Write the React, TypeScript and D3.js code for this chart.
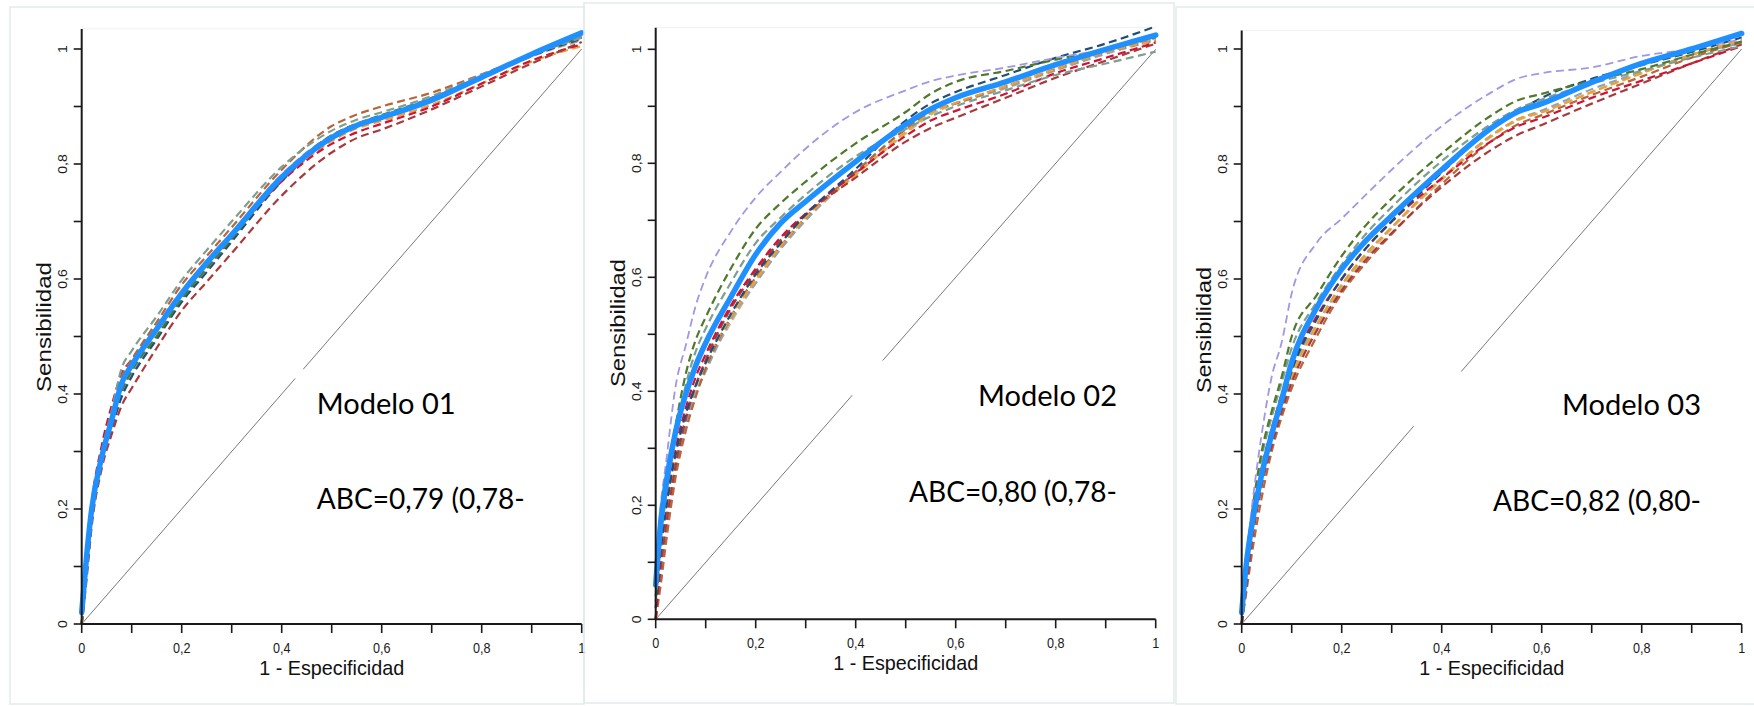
import React from 'react';
import * as d3 from 'd3';

// false positive rate grid shared by every curve
const FPR = [0, 0.01, 0.02, 0.04, 0.06, 0.08, 0.1, 0.15, 0.2, 0.25, 0.3, 0.4, 0.5, 0.55, 0.6, 0.7, 0.8, 0.9, 1];

// Modelo 01
const m1Blue = [0.02, 0.12, 0.2, 0.29, 0.355, 0.419, 0.45, 0.513, 0.575, 0.628, 0.677, 0.777, 0.846, 0.867, 0.881, 0.911, 0.951, 0.991, 1.028];
const m1GreyTeal = [0, 0.1, 0.19, 0.29, 0.37, 0.445, 0.475, 0.535, 0.598, 0.65, 0.7, 0.795, 0.858, 0.877, 0.89, 0.918, 0.955, 0.99, 1.02];
const m1Sienna = [0, 0.1, 0.2, 0.3, 0.37, 0.43, 0.46, 0.525, 0.59, 0.64, 0.69, 0.79, 0.866, 0.886, 0.9, 0.924, 0.956, 0.99, 1.02];
const m1DarkRed = [0, 0.08, 0.17, 0.27, 0.33, 0.38, 0.41, 0.48, 0.545, 0.595, 0.645, 0.745, 0.82, 0.845, 0.86, 0.895, 0.935, 0.975, 1.012];
const m1Red = [0, 0.12, 0.21, 0.31, 0.38, 0.435, 0.46, 0.515, 0.575, 0.625, 0.675, 0.77, 0.835, 0.855, 0.87, 0.9, 0.94, 0.98, 1.008];
const m1Navy = [0, 0.09, 0.18, 0.28, 0.34, 0.395, 0.43, 0.495, 0.56, 0.612, 0.665, 0.77, 0.845, 0.866, 0.88, 0.912, 0.95, 0.988, 1.018];
const m1Olive = [0, 0.1, 0.19, 0.285, 0.35, 0.405, 0.44, 0.5, 0.565, 0.618, 0.67, 0.775, 0.85, 0.87, 0.885, 0.915, 0.952, 0.99, 1.02];
const m1Orange = [0, 0.11, 0.2, 0.29, 0.355, 0.41, 0.445, 0.51, 0.57, 0.622, 0.672, 0.77, 0.84, 0.862, 0.875, 0.903, 0.94, 0.978, 1.005];
const m1Lavender = [0, 0.1, 0.2, 0.295, 0.36, 0.42, 0.455, 0.52, 0.58, 0.632, 0.68, 0.782, 0.85, 0.87, 0.884, 0.913, 0.952, 0.99, 1.022];
const m1Khaki = [0, 0.1, 0.19, 0.285, 0.35, 0.41, 0.44, 0.505, 0.568, 0.62, 0.672, 0.775, 0.845, 0.866, 0.88, 0.91, 0.948, 0.987, 1.015];
const m1BlueGrey = [0, 0.09, 0.18, 0.28, 0.345, 0.4, 0.435, 0.5, 0.565, 0.618, 0.67, 0.772, 0.845, 0.866, 0.88, 0.91, 0.95, 0.988, 1.016];

// Modelo 02
const m2Blue = [0.06, 0.17, 0.235, 0.33, 0.395, 0.445, 0.485, 0.565, 0.64, 0.695, 0.733, 0.803, 0.868, 0.895, 0.915, 0.943, 0.973, 1.0, 1.025];
const m2Lavender = [0.08, 0.2, 0.27, 0.41, 0.48, 0.55, 0.6, 0.68, 0.74, 0.785, 0.826, 0.89, 0.928, 0.944, 0.954, 0.968, 0.985, 1.0, 1.02];
const m2Olive = [0.04, 0.15, 0.22, 0.34, 0.43, 0.49, 0.53, 0.615, 0.685, 0.73, 0.768, 0.835, 0.89, 0.922, 0.943, 0.962, 0.982, 1.0, 1.02];
const m2GreyTeal = [0.03, 0.14, 0.21, 0.32, 0.41, 0.47, 0.51, 0.59, 0.66, 0.705, 0.745, 0.812, 0.86, 0.882, 0.9, 0.928, 0.955, 0.975, 0.996];
const m2Navy = [0.02, 0.12, 0.19, 0.29, 0.36, 0.41, 0.45, 0.535, 0.605, 0.66, 0.71, 0.79, 0.875, 0.905, 0.925, 0.955, 0.985, 1.01, 1.04];
const m2Red = [0, 0.12, 0.19, 0.3, 0.37, 0.425, 0.465, 0.55, 0.615, 0.67, 0.712, 0.783, 0.848, 0.875, 0.892, 0.922, 0.958, 0.985, 1.012];
const m2DarkRed = [0, 0.09, 0.16, 0.27, 0.35, 0.41, 0.455, 0.545, 0.61, 0.665, 0.71, 0.775, 0.838, 0.862, 0.88, 0.915, 0.95, 0.98, 1.01];
const m2Orange = [0, 0.1, 0.17, 0.28, 0.355, 0.41, 0.45, 0.53, 0.595, 0.655, 0.705, 0.78, 0.855, 0.888, 0.906, 0.935, 0.965, 0.995, 1.015];
const m2Khaki = [0, 0.1, 0.17, 0.275, 0.35, 0.4, 0.44, 0.52, 0.59, 0.65, 0.7, 0.78, 0.852, 0.885, 0.905, 0.935, 0.966, 0.996, 1.018];
const m2BlueGrey = [0, 0.08, 0.15, 0.26, 0.34, 0.395, 0.435, 0.525, 0.59, 0.65, 0.7, 0.785, 0.86, 0.89, 0.905, 0.932, 0.963, 0.992, 1.016];
const m2Sienna = [0, 0.06, 0.13, 0.25, 0.33, 0.39, 0.44, 0.53, 0.6, 0.655, 0.705, 0.785, 0.86, 0.89, 0.905, 0.935, 0.965, 0.995, 1.015];

// Modelo 03
const m3Blue = [0.02, 0.11, 0.17, 0.26, 0.33, 0.39, 0.455, 0.55, 0.617, 0.668, 0.71, 0.79, 0.863, 0.89, 0.905, 0.942, 0.975, 1.0, 1.027];
const m3Lavender = [0.03, 0.12, 0.2, 0.33, 0.43, 0.49, 0.575, 0.663, 0.705, 0.748, 0.79, 0.866, 0.925, 0.948, 0.958, 0.968, 0.988, 1.0, 1.017];
const m3Olive = [0.02, 0.12, 0.19, 0.3, 0.37, 0.43, 0.5, 0.572, 0.64, 0.695, 0.74, 0.818, 0.885, 0.91, 0.922, 0.945, 0.965, 0.99, 1.013];
const m3GreyTeal = [0.02, 0.11, 0.18, 0.29, 0.36, 0.42, 0.48, 0.56, 0.625, 0.68, 0.725, 0.805, 0.87, 0.895, 0.912, 0.94, 0.962, 0.985, 1.005];
const m3Navy = [0, 0.09, 0.16, 0.26, 0.33, 0.38, 0.44, 0.53, 0.6, 0.655, 0.7, 0.785, 0.862, 0.89, 0.915, 0.948, 0.972, 0.995, 1.02];
const m3Red = [0, 0.09, 0.16, 0.27, 0.34, 0.4, 0.45, 0.535, 0.6, 0.655, 0.7, 0.775, 0.84, 0.865, 0.88, 0.915, 0.945, 0.975, 1.005];
const m3DarkRed = [0, 0.07, 0.14, 0.24, 0.31, 0.37, 0.42, 0.51, 0.58, 0.635, 0.68, 0.76, 0.825, 0.85, 0.868, 0.905, 0.94, 0.975, 1.008];
const m3Orange = [0, 0.08, 0.15, 0.25, 0.32, 0.38, 0.43, 0.52, 0.59, 0.645, 0.69, 0.775, 0.85, 0.877, 0.89, 0.925, 0.958, 0.99, 1.015];
const m3Khaki = [0, 0.08, 0.15, 0.25, 0.32, 0.38, 0.43, 0.515, 0.585, 0.64, 0.688, 0.772, 0.848, 0.875, 0.89, 0.925, 0.958, 0.99, 1.015];
const m3BlueGrey = [0, 0.09, 0.16, 0.26, 0.33, 0.39, 0.44, 0.52, 0.59, 0.645, 0.69, 0.775, 0.85, 0.877, 0.893, 0.93, 0.96, 0.99, 1.01];
const m3Sienna = [0, 0.06, 0.12, 0.22, 0.3, 0.36, 0.41, 0.5, 0.575, 0.63, 0.678, 0.765, 0.84, 0.868, 0.885, 0.92, 0.952, 0.985, 1.012];

const MODEL_NAMES = ['Modelo 01', 'Modelo 02', 'Modelo 03'];
const ABC_LABELS = ['ABC=0,79 (0,78-', 'ABC=0,80 (0,78-', 'ABC=0,82 (0,80-'];
// where the pasted text box hides the reference diagonal (fpr range)
const DIAG_GAPS = [[0.427, 0.443], [0.393, 0.454], [0.344, 0.439]];

const MINOR_TICKS = [0, 0.1, 0.2, 0.3, 0.4, 0.5, 0.6, 0.7, 0.8, 0.9, 1];
const LABEL_TICKS = [0, 0.2, 0.4, 0.6, 0.8, 1];
const TICK_TEXT = ['0', '0,2', '0,4', '0,6', '0,8', '1'];

const COLORS = {
  blue: '#1E90FF',
  lavender: '#A197E3',
  olive: '#4E7A2A',
  greyTeal: '#7E9E90',
  navy: '#214E78',
  red: '#D01236',
  darkRed: '#A83A3C',
  orange: '#F0A030',
  khaki: '#CBBB84',
  blueGrey: '#8FA3BC',
  sienna: '#B8653C',
};

const SERIES = [
  { blue: m1Blue, dashed: [
    ['khaki', m1Khaki], ['blueGrey', m1BlueGrey], ['orange', m1Orange], ['lavender', m1Lavender], ['navy', m1Navy],
    ['olive', m1Olive], ['red', m1Red], ['darkRed', m1DarkRed], ['sienna', m1Sienna], ['greyTeal', m1GreyTeal]] },
  { blue: m2Blue, dashed: [
    ['khaki', m2Khaki], ['blueGrey', m2BlueGrey], ['sienna', m2Sienna], ['orange', m2Orange], ['darkRed', m2DarkRed],
    ['red', m2Red], ['navy', m2Navy], ['greyTeal', m2GreyTeal], ['olive', m2Olive], ['lavender', m2Lavender]] },
  { blue: m3Blue, dashed: [
    ['khaki', m3Khaki], ['blueGrey', m3BlueGrey], ['sienna', m3Sienna], ['orange', m3Orange], ['darkRed', m3DarkRed],
    ['red', m3Red], ['navy', m3Navy], ['greyTeal', m3GreyTeal], ['olive', m3Olive], ['lavender', m3Lavender]] },
];

// pixel layout of the three pasted images
const LAYOUT = [
  { x0: 81.7, y0: 624, h: 575, yTop: 1.035, frame: [10, 7, 574, 697], titleX: 316.7, titleY: 413.5, abcX: 316.7, abcY: 509, sensY: 327, sensLen: 130 },
  { x0: 655.7, y0: 619.3, h: 570, yTop: 1.038, frame: [584, 3, 590, 700], titleX: 978, titleY: 405.6, abcX: 909, abcY: 501.6, sensY: 323, sensLen: 128 },
  { x0: 1241.7, y0: 624, h: 575, yTop: 1.032, frame: [1176, 7, 590, 697], titleX: 1562, titleY: 415, abcX: 1493, abcY: 511, sensY: 330, sensLen: 126 },
];
const PLOT_W = 500;

const SANS = '"Liberation Sans", Arial, sans-serif';
const CALIBRI = 'Lato, "Open Sans", sans-serif';

const Panel: React.FC<{ i: number }> = ({ i }) => {
  const L = LAYOUT[i];
  const S = SERIES[i];
  const xs = d3.scaleLinear().domain([0, 1]).range([L.x0, L.x0 + PLOT_W]);
  const ys = d3.scaleLinear().domain([0, 1]).range([L.y0, L.y0 - L.h]);
  const line = d3.line<number>()
    .x((_, k) => xs(FPR[k]))
    .y(d => ys(d))
    .curve(d3.curveMonotoneX);
  const [g0, g1] = DIAG_GAPS[i];
  const [fx, fy, fw, fh] = L.frame;

  return (
    <g>
      <rect x={fx} y={fy} width={fw} height={fh} fill="none" stroke="#e3eaec" strokeWidth={1.5} />
      <line x1={xs(0)} x2={xs(1)} y1={ys(L.yTop)} y2={ys(L.yTop)} stroke="#eef2f3" strokeWidth={1} />

      {/* diagonal reference */}
      <line x1={xs(0)} y1={ys(0)} x2={xs(g0)} y2={ys(g0)} stroke="#555" strokeWidth={0.8} />
      <line x1={xs(g1)} y1={ys(g1)} x2={xs(1)} y2={ys(1)} stroke="#555" strokeWidth={0.8} />

      {S.dashed.map(([c, v]) => (
        <path key={c as string} d={line(v as number[]) || ''} fill="none"
          stroke={COLORS[c as keyof typeof COLORS]} strokeWidth={c === 'lavender' ? 1.8 : 2.2}
          strokeDasharray="8,4.5" />
      ))}
      <path d={line(S.blue) || ''} fill="none" stroke={COLORS.blue} strokeWidth={5.5}
        strokeLinejoin="round" strokeLinecap="round" />

      {/* axes */}
      <line x1={xs(0)} x2={xs(1)} y1={ys(0)} y2={ys(0)} stroke="#1a1a1a" strokeWidth={2} />
      <line x1={xs(0)} x2={xs(0)} y1={ys(0)} y2={ys(L.yTop)} stroke="#1a1a1a" strokeWidth={2} />
      {MINOR_TICKS.map(t => (
        <g key={'t' + t}>
          <line x1={xs(t)} x2={xs(t)} y1={ys(0)} y2={ys(0) + 9} stroke="#1a1a1a" strokeWidth={1.6} />
          <line x1={xs(0) - 8} x2={xs(0)} y1={ys(t)} y2={ys(t)} stroke="#1a1a1a" strokeWidth={1.6} />
        </g>
      ))}
      {LABEL_TICKS.map((t, k) => (
        <g key={'l' + t} fontFamily={SANS} fontSize={14} fill="#1a1a1a">
          <text transform={`translate(${xs(t)},${ys(0) + 29}) scale(0.9,1)`} textAnchor="middle">{TICK_TEXT[k]}</text>
          <text transform={`translate(${xs(0) - 15},${ys(t)}) scale(0.9,1) rotate(-90)`} textAnchor="middle">{TICK_TEXT[k]}</text>
        </g>
      ))}
      <text x={xs(0.5)} y={ys(0) + 51} textAnchor="middle" fontFamily={SANS} fontSize={21}
        textLength={145} lengthAdjust="spacingAndGlyphs" fill="#111">1 - Especificidad</text>
      <text transform={`translate(${xs(0) - 31},${L.sensY}) rotate(-90)`} textAnchor="middle" fontFamily={SANS}
        fontSize={21} textLength={L.sensLen} lengthAdjust="spacingAndGlyphs" fill="#111">Sensibilidad</text>

      <text x={L.titleX} y={L.titleY} fontFamily={CALIBRI} fontSize={29} textLength={139}
        lengthAdjust="spacingAndGlyphs" fill="#000">{MODEL_NAMES[i]}</text>
      <text x={L.abcX} y={L.abcY} fontFamily={CALIBRI} fontSize={29} textLength={208}
        lengthAdjust="spacingAndGlyphs" fill="#000">{ABC_LABELS[i]}</text>
    </g>
  );
};

export default function App() {
  return (
    <svg width={1754} height={706} viewBox="0 0 1754 706"
      style={{ position: 'absolute', left: 0, top: 0, background: '#fff' }}>
      <rect width={1754} height={706} fill="#fff" />
      {[0, 1, 2].map(i => <Panel key={i} i={i} />)}
    </svg>
  );
}
